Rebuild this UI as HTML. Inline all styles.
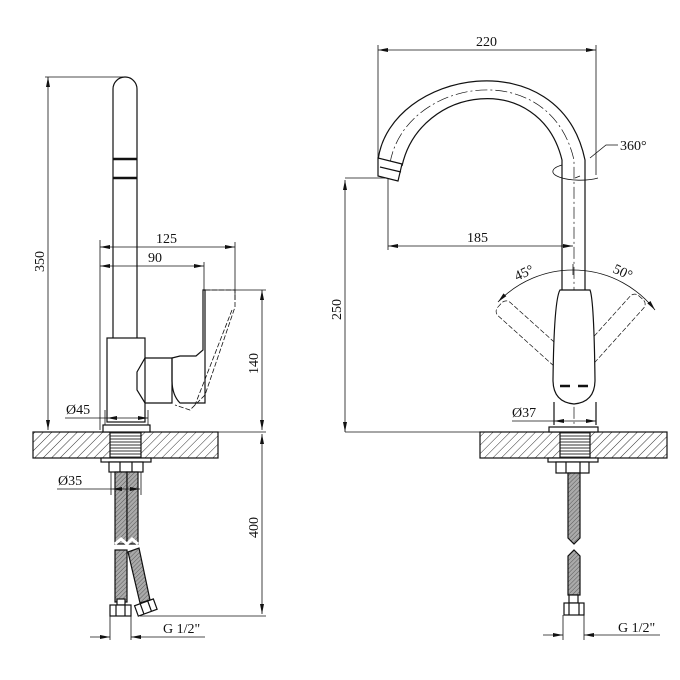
<!DOCTYPE html>
<html><head><meta charset="utf-8"><style>
html,body{margin:0;padding:0;background:#fff}
svg{display:block}
text{font-family:"Liberation Serif","DejaVu Serif",serif;font-size:14px;fill:#111}
</style></head><body>
<svg width="680" height="680" viewBox="0 0 680 680" xmlns="http://www.w3.org/2000/svg">
<defs>
<pattern id="h" width="6" height="6" patternUnits="userSpaceOnUse" patternTransform="rotate(45)">
<rect width="6" height="6" fill="#fff"/><line x1="0" y1="0" x2="0" y2="6" stroke="#333" stroke-width="1"/></pattern>
<pattern id="b" width="3" height="3" patternUnits="userSpaceOnUse" patternTransform="rotate(45)">
<rect width="3" height="3" fill="#aaa"/><line x1="0" y1="0" x2="0" y2="3" stroke="#444" stroke-width="0.8"/></pattern>
<pattern id="t" width="4" height="3" patternUnits="userSpaceOnUse"><rect width="4" height="3" fill="#fff"/><line x1="0" y1="1" x2="4" y2="1" stroke="#333" stroke-width="1"/></pattern>
<marker id="a" viewBox="0 0 10 4" refX="10" refY="2" markerWidth="10" markerHeight="4" orient="auto-start-reverse" markerUnits="userSpaceOnUse"><path d="M0,0 L10,2 L0,4z" fill="#111"/></marker>
</defs>
<g fill="none" stroke="#111" stroke-width="1.2">
<!-- LEFT VIEW -->
<path d="M113,338 V89 A12,12 0 0 1 137,89 V338"/>
<line x1="113" y1="159" x2="137" y2="159" stroke-width="2.5"/>
<line x1="113" y1="178" x2="137" y2="178" stroke-width="2.5"/>
<rect x="107" y="338" width="38" height="84"/>
<path d="M145,358 L172,358 L172,403 L145,403 L137,390 L137,372 Z"/>
<path d="M172,358 L180,356 L196,356 L203,350 L203,290 L205,290 L205,403 L180,403 Q172,395 172,380 Z"/>
<path d="M205,290 L235,290 L235,307 L205,395 L190,410 L175,405" stroke-dasharray="5,2" stroke-width="0.8"/>
<path d="M232,310 L195,405" stroke-dasharray="5,2" stroke-width="0.8"/>
<rect x="33" y="432" width="185" height="26" fill="url(#h)"/>
<rect x="110" y="432" width="31" height="26" fill="url(#t)"/>
<rect x="103" y="425" width="47" height="7" fill="#fff"/>
<rect x="101" y="458" width="50" height="4" fill="#fff"/>
<rect x="109" y="462" width="34" height="10" fill="#fff"/>
<line x1="120" y1="462" x2="120" y2="472"/><line x1="132" y1="462" x2="132" y2="472"/>
<rect x="115" y="472" width="12" height="72" fill="url(#b)"/>
<rect x="127" y="472" width="11" height="72" fill="url(#b)"/>
<path d="M115,544 l6,-5 l6,5 l5,-5 l6,5" stroke="#fff" stroke-width="3"/>
<rect x="115" y="550" width="12" height="52" fill="url(#b)"/>
<path d="M128,552 L139,548 L150,600 L140,603 Z" fill="url(#b)"/>
<rect x="117" y="599" width="8" height="6" fill="#fff"/>
<rect x="110" y="605" width="21" height="11" fill="#fff"/>
<line x1="116" y1="605" x2="116" y2="616"/><line x1="125" y1="605" x2="125" y2="616"/>
<g transform="rotate(-20 146 608)"><rect x="136" y="602" width="20" height="11" fill="#fff"/><line x1="142" y1="602" x2="142" y2="613"/><line x1="150" y1="602" x2="150" y2="613"/></g>
<g stroke-width="0.8">
<line x1="48" y1="77" x2="48" y2="430" marker-start="url(#a)" marker-end="url(#a)"/>
<line x1="45" y1="77" x2="125" y2="77"/>
<line x1="100" y1="240" x2="100" y2="430"/>
<line x1="100" y1="247" x2="235" y2="247" marker-start="url(#a)" marker-end="url(#a)"/>
<line x1="235" y1="242" x2="235" y2="300"/>
<line x1="100" y1="266" x2="204" y2="266" marker-start="url(#a)" marker-end="url(#a)"/>
<line x1="204" y1="262" x2="204" y2="290"/>
<line x1="205" y1="290" x2="266" y2="290"/>
<line x1="262" y1="290" x2="262" y2="430" marker-start="url(#a)" marker-end="url(#a)"/>
<line x1="218" y1="432" x2="266" y2="432"/>
<line x1="262" y1="434" x2="262" y2="614" marker-start="url(#a)" marker-end="url(#a)"/>
<line x1="140" y1="616" x2="266" y2="616"/>
<line x1="65" y1="418" x2="107" y2="418"/>
<line x1="107" y1="418" x2="148" y2="418" marker-start="url(#a)" marker-end="url(#a)"/>
<line x1="148" y1="410" x2="148" y2="425"/><line x1="105" y1="410" x2="105" y2="425"/>
<line x1="57" y1="489" x2="112" y2="489"/>
<line x1="112" y1="489" x2="140" y2="489" marker-start="url(#a)" marker-end="url(#a)"/>
<line x1="111" y1="472" x2="111" y2="495"/><line x1="141" y1="472" x2="141" y2="495"/>
<line x1="110" y1="616" x2="110" y2="640"/><line x1="131" y1="616" x2="131" y2="640"/>
<line x1="90" y1="637" x2="110" y2="637" marker-end="url(#a)"/>
<line x1="205" y1="637" x2="131" y2="637" marker-end="url(#a)"/>
</g>
<!-- RIGHT VIEW -->
<path d="M378,160 C390,70 560,40 585,160 V290"/>
<path d="M402,166 C420,85 540,70 562,160 V290"/>
<path d="M390,163 C405,78 550,55 574,160 V425" stroke-dasharray="12,3,2,3" stroke-width="0.7"/>
<path d="M378,158 L402,164 L398,181 L378,176 Z" fill="#fff"/>
<line x1="380" y1="167" x2="401" y2="172"/>
<g stroke-dasharray="5,2" stroke-width="0.7">
<g transform="rotate(42 574 372)"><rect x="565" y="272" width="18" height="110" rx="6"/></g>
<g transform="rotate(-48 574 372)"><rect x="565" y="272" width="18" height="110" rx="6"/></g>
</g>
<path d="M560,290 L590,290 Q594,300 595,380 Q595,402 574,404 Q553,402 553,380 Q554,300 560,290 Z" fill="#fff"/>
<line x1="560" y1="386" x2="570" y2="386" stroke-width="2.5"/><line x1="578" y1="386" x2="588" y2="386" stroke-width="2.5"/>
<path d="M554,402 V425 M596,402 V425"/>
<path d="M562,165 A25,8 0 1 0 598,178" stroke-width="0.8"/>
<line x1="575" y1="178" x2="580" y2="176" stroke-width="0.8"/>
<rect x="480" y="432" width="187" height="26" fill="url(#h)"/>
<rect x="560" y="432" width="30" height="26" fill="url(#t)"/>
<rect x="549" y="427" width="49" height="5" fill="#fff"/>
<rect x="548" y="458" width="50" height="4" fill="#fff"/>
<rect x="556" y="462" width="33" height="11" fill="#fff"/>
<line x1="566" y1="462" x2="566" y2="473"/><line x1="580" y1="462" x2="580" y2="473"/>
<path d="M568,473 H580 V538 L574,544 L568,538 Z" fill="url(#b)"/>
<path d="M568,556 L574,550 L580,556 V595 H568 Z" fill="url(#b)"/>
<rect x="569" y="595" width="9" height="8" fill="#fff"/>
<rect x="564" y="603" width="20" height="12" fill="#fff"/>
<line x1="569" y1="603" x2="569" y2="615"/><line x1="579" y1="603" x2="579" y2="615"/>
<g stroke-width="0.8">
<line x1="378" y1="50" x2="596" y2="50" marker-start="url(#a)" marker-end="url(#a)"/>
<line x1="378" y1="45" x2="378" y2="158"/>
<line x1="596" y1="45" x2="596" y2="175"/>
<line x1="345" y1="178" x2="385" y2="178"/>
<line x1="345" y1="180" x2="345" y2="432" marker-start="url(#a)" marker-end="url(#a)"/>
<line x1="345" y1="432" x2="480" y2="432"/>
<line x1="388" y1="178" x2="388" y2="250"/>
<line x1="388" y1="246" x2="573" y2="246" marker-start="url(#a)" marker-end="url(#a)"/>
<path d="M590,158 L606,145 L618,145"/>
<path d="M498,302 A104,104 0 0 1 655,310" marker-start="url(#a)" marker-end="url(#a)"/>
<line x1="573" y1="264" x2="573" y2="275"/>
<line x1="512" y1="421" x2="554" y2="421"/>
<line x1="554" y1="421" x2="596" y2="421" marker-start="url(#a)" marker-end="url(#a)"/>
<line x1="563" y1="615" x2="563" y2="640"/><line x1="584" y1="615" x2="584" y2="640"/>
<line x1="543" y1="635" x2="563" y2="635" marker-end="url(#a)"/>
<line x1="660" y1="635" x2="584" y2="635" marker-end="url(#a)"/>
</g>
</g>
<text x="156" y="243">125</text>
<text x="148" y="262">90</text>
<text x="66" y="414">Ø45</text>
<text x="58" y="485">Ø35</text>
<text x="163" y="633">G 1/2"</text>
<text transform="translate(44,272) rotate(-90)">350</text>
<text transform="translate(258,374) rotate(-90)">140</text>
<text transform="translate(258,538) rotate(-90)">400</text>
<text x="476" y="46">220</text>
<text x="467" y="242">185</text>
<text x="620" y="150">360°</text>
<text transform="translate(341,320) rotate(-90)">250</text>
<text transform="translate(517,281) rotate(-25)">45°</text>
<text transform="translate(612,272) rotate(25)">50°</text>
<text x="512" y="417">Ø37</text>
<text x="618" y="632">G 1/2"</text>
</svg>
</body></html>
